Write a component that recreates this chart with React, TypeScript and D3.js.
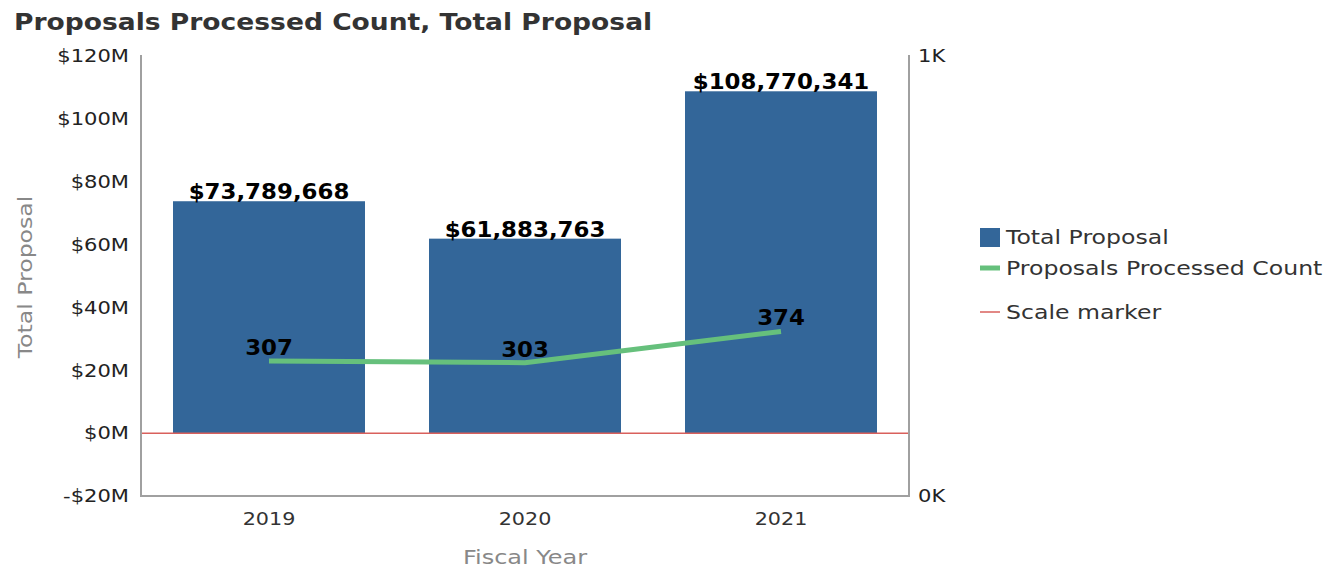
import React from "react";
import * as d3 from "d3";

const years = ["2019", "2020", "2021"];
const totalProposal = [73789668, 61883763, 108770341];
const processedCount = [307, 303, 374];
const leftTicks = [-20e6, 0, 20e6, 40e6, 60e6, 80e6, 100e6, 120e6];
const rightTicks = [0, 1000];
const legendItems = ["Total Proposal", "Proposals Processed Count", "Scale marker"];

const W = 1327, H = 571;
const M = { left: 141, right: 909, top: 56, bottom: 496 };
const FONT = "DejaVu Sans, sans-serif";
const BAR = "#336699";
const GREEN = "#66c07c";
const RED = "#d9605c";

type TProps = {
  x: number; y: number; sx?: number; size: number; anchor?: string; weight?: string;
  fill: string; dy?: string; rotate?: number; children: React.ReactNode;
};
function T({ x, y, sx = 1.16, size, anchor = "start", weight = "normal", fill, dy, rotate = 0, children }: TProps) {
  return (
    <text transform={`translate(${x},${y}) rotate(${rotate}) scale(${sx},1)`} textAnchor={anchor}
      fontSize={size} fontWeight={weight} fill={fill} dy={dy}>{children}</text>
  );
}

export default function App() {
  const x = d3.scaleBand().domain(years).range([M.left, M.right]).paddingInner(0.25).paddingOuter(0.125);
  const yL = d3.scaleLinear().domain([-20e6, 120e6]).range([M.bottom, M.top]);
  const yR = d3.scaleLinear().domain([0, 1000]).range([M.bottom, M.top]);
  const fmtMoney = (v: number) => (v < 0 ? "-$" : "$") + Math.abs(v / 1e6) + "M";
  const fmtFull = (v: number) => "$" + d3.format(",")(v);
  const cx = (d: string) => (x(d) as number) + x.bandwidth() / 2;
  const line = d3.line<number>().x((_, i) => cx(years[i])).y((v) => yR(v));

  return (
    <svg width={W} height={H} style={{ position: "absolute", left: 0, top: 0, fontFamily: FONT }}>
      <rect width={W} height={H} fill="#fff" />
      <T x={14} y={30} sx={1.154} size={23} weight="bold" fill="#333">Proposals Processed Count, Total Proposal</T>

      {years.map((d, i) => (
        <rect key={d} x={x(d)} y={yL(totalProposal[i])} width={x.bandwidth()} height={yL(0) - yL(totalProposal[i])} fill={BAR} />
      ))}

      <line x1={M.left} x2={M.right} y1={yL(0)} y2={yL(0)} stroke={RED} strokeWidth={1.5} />

      <path d={line(processedCount) as string} fill="none" stroke={GREEN} strokeWidth={5} />

      {years.map((d, i) => (
        <T key={"bl" + d} x={cx(d)} y={yL(totalProposal[i]) - 2} sx={1.09} anchor="middle" size={21} weight="bold" fill="#000">{fmtFull(totalProposal[i])}</T>
      ))}
      {years.map((d, i) => (
        <T key={"ll" + d} x={cx(d)} y={yR(processedCount[i]) - 6} sx={1.09} anchor="middle" size={21} weight="bold" fill="#000">{processedCount[i]}</T>
      ))}

      <path d={`M${M.left},${M.top - 1}V${M.bottom}H${M.right}V${M.top - 1}`} fill="none" stroke="#a0a0a0" strokeWidth={2} />

      {leftTicks.map((t) => (
        <T key={t} x={129} y={yL(t)} dy="0.35em" anchor="end" size={18} sx={1.17} fill="#222">{fmtMoney(t)}</T>
      ))}
      {rightTicks.map((t) => (
        <T key={t} x={918} y={yR(t)} dy="0.35em" size={18} sx={1.17} fill="#222">{t / 1000 + "K"}</T>
      ))}
      {years.map((d) => (
        <T key={"x" + d} x={cx(d)} y={525} anchor="middle" size={18} sx={1.15} fill="#333">{d}</T>
      ))}
      <T x={(M.left + M.right) / 2} y={564} anchor="middle" size={20} sx={1.2} fill="#888">Fiscal Year</T>
      <T x={32} y={(M.top + M.bottom) / 2 + 1} rotate={-90} anchor="middle" size={20} sx={1.18} fill="#888">Total Proposal</T>

      <rect x={980} y={228} width={20} height={19} fill={BAR} />
      <T x={1006} y={237} dy="0.35em" size={20} sx={1.18} fill="#333">{legendItems[0]}</T>
      <line x1={980} x2={1000} y1={268} y2={268} stroke={GREEN} strokeWidth={5} />
      <T x={1006} y={268} dy="0.35em" size={20} sx={1.18} fill="#333">{legendItems[1]}</T>
      <line x1={980} x2={1000} y1={312} y2={312} stroke={RED} strokeWidth={1.5} />
      <T x={1006} y={312} dy="0.35em" size={20} sx={1.18} fill="#333">{legendItems[2]}</T>
    </svg>
  );
}
